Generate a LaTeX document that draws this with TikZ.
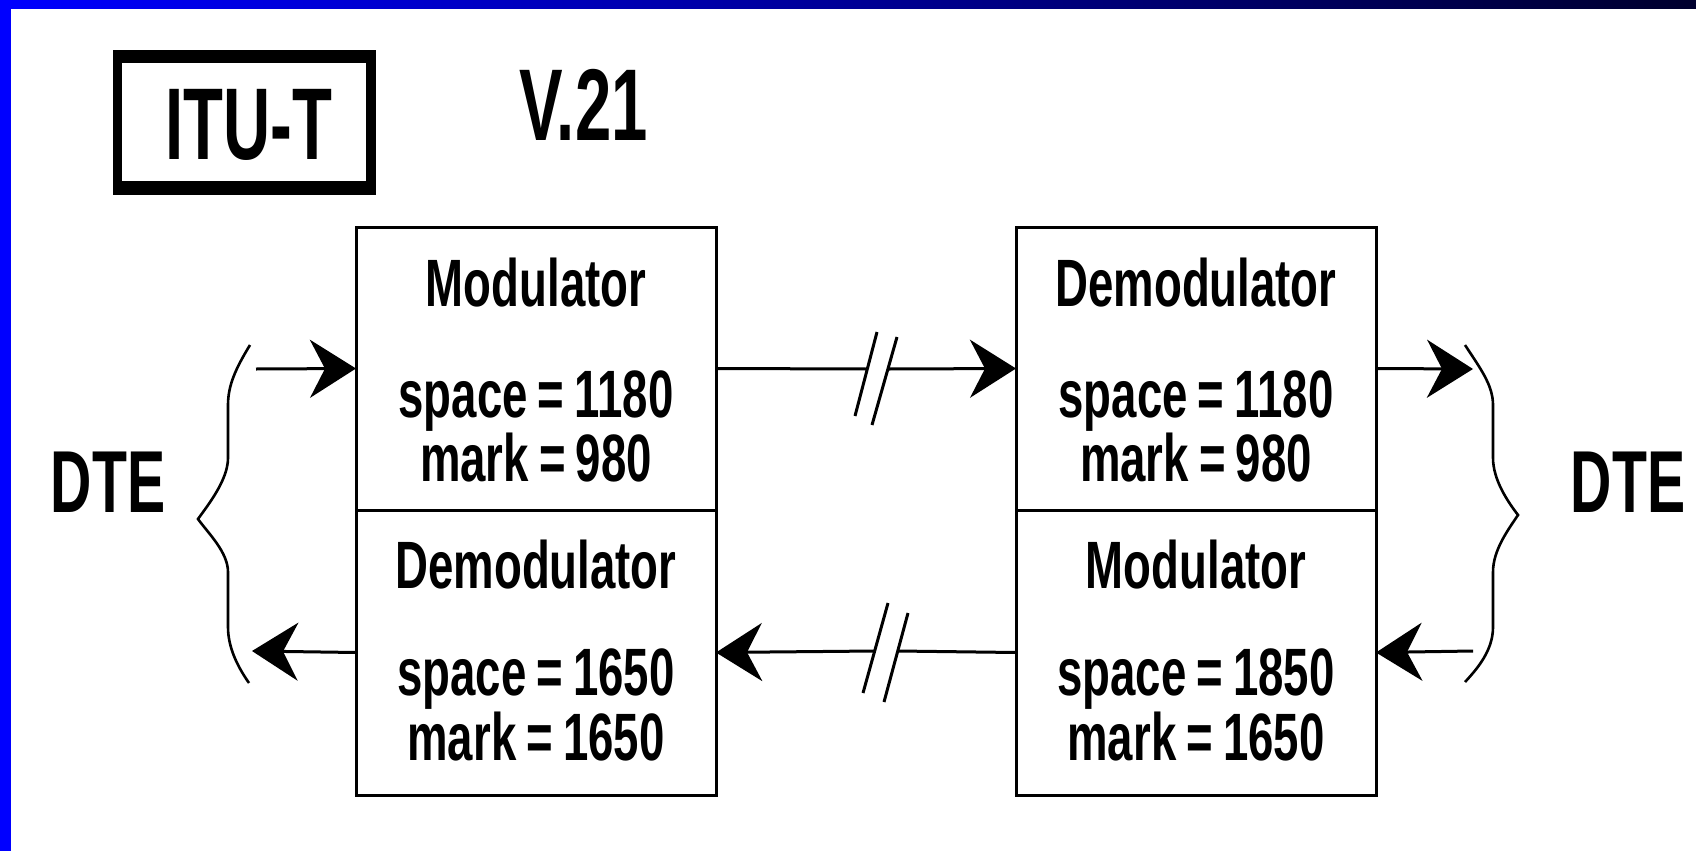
\documentclass[tikz,border=0pt]{standalone}
\usepackage{fontspec}
\setmainfont{Liberation Sans}
\newfontfamily\boxfont[WordSpace=0.8]{Liberation Sans}
\usetikzlibrary{arrows.meta}
\definecolor{barblue}{RGB}{0,0,255}
\definecolor{barend}{RGB}{0,0,45}
\tikzset{
  blk/.style={draw=black, line width=3pt, minimum width=360pt, inner sep=0pt, outer sep=0pt},
  boxtxt/.style={anchor=base, inner sep=0pt, xscale=0.68, font=\boxfont\fontsize{67}{67}\selectfont\bfseries},
  dtetxt/.style={anchor=base, inner sep=0pt, xscale=0.65, font=\fontsize{88}{88}\selectfont\bfseries},
  titletxt/.style={anchor=base, inner sep=0pt, xscale=0.64, font=\fontsize{102}{102}\selectfont\bfseries},
  conn/.style={line width=3pt},
  arr/.style={conn, -{Stealth[length=46pt, width=58pt, inset=15pt]}},
  brk/.style={line width=3pt},
  bracel/.style={line width=2.6pt},
}
\begin{document}
\begin{tikzpicture}[x=1pt,y=-1pt]
\useasboundingbox (0,0) rectangle (1696,851);
\fill[white] (0,0) rectangle (1696,851);
\shade[left color=barblue, right color=barend] (0,0) rectangle (1696,9);
\fill[barblue] (0,0) rectangle (11,851);

% ITU-T box and title
\node[fill=black, minimum width=263pt, minimum height=145pt, inner sep=0pt, outer sep=0pt] (itubox) at (244.5,122.5) {};
\fill[white] (122,63) rectangle (366,181);
\node[titletxt] (itu) at (248.5,159) {ITU-T};
\node[titletxt] (v21) at (583.5,140) {V.21};

% blocks
\node[blk, minimum height=283pt] (LM) at (536,368.5) {};
\node[blk, minimum height=285pt] (LD) at (536,652.5) {};
\node[blk, minimum height=283pt] (RD) at (1196,368.5) {};
\node[blk, minimum height=285pt] (RM) at (1196,652.5) {};

% texts left
\node[boxtxt] (l1) at (536,306) {Modulator};
\node[boxtxt] (l2) at (536,417) {space = 1180};
\node[boxtxt] (l3) at (536,481) {mark = 980};
\node[boxtxt] (l4) at (536,588) {Demodulator};
\node[boxtxt] (l5) at (536,695) {space = 1650};
\node[boxtxt] (l6) at (536,760) {mark = 1650};
% texts right
\node[boxtxt] (r1) at (1196,306) {Demodulator};
\node[boxtxt] (r2) at (1196,417) {space = 1180};
\node[boxtxt] (r3) at (1196,481) {mark = 980};
\node[boxtxt] (r4) at (1196,588) {Modulator};
\node[boxtxt] (r5) at (1196,695) {space = 1850};
\node[boxtxt] (r6) at (1196,760) {mark = 1650};

% DTE labels
\node[dtetxt] (dtel) at (108,512) {DTE};
\node[dtetxt] (dter) at (1628,512) {DTE};

% braces
\draw[bracel] (250,345) .. controls (236,368) and (228,385) .. (228,405) -- (228,458)
  .. controls (228,480) and (208,505) .. (198,519)
  .. controls (208,533) and (228,552) .. (228,572) -- (228,627)
  .. controls (228,650) and (240,670) .. (249,683);
\draw[bracel] (1465,345) .. controls (1480,368) and (1493,385) .. (1493,405) -- (1493,458)
  .. controls (1493,480) and (1508,502) .. (1518,515)
  .. controls (1508,530) and (1493,550) .. (1493,572) -- (1493,627)
  .. controls (1493,650) and (1478,668) .. (1465,682);

% free ends
\coordinate (dl1) at (256,369);
\coordinate (dl2) at (252,651);
\coordinate (dr1) at (1473,369);
\coordinate (dr2) at (1473,651);
\coordinate (m1) at (867,369);
\coordinate (m2) at (889,369);
\coordinate (m3) at (875,651);
\coordinate (m4) at (898,651);

% connectors
\draw[arr] (dl1) -- (LM.west);
\draw[arr] (LD.west) -- (dl2);
\draw[conn] (LM.east) -- (m1);
\draw[arr] (m2) -- (RD.west);
\draw[conn] (RM.west) -- (m4);
\draw[arr] (m3) -- (LD.east);
\draw[arr] (RD.east) -- (dr1);
\draw[arr] (dr2) -- (RM.east);

% break marks
\draw[brk] (855,416) -- (877,332);
\draw[brk] (872,425) -- (897,337);
\draw[brk] (863,693) -- (888,603);
\draw[brk] (884,702) -- (908,613);
\end{tikzpicture}
\end{document}
